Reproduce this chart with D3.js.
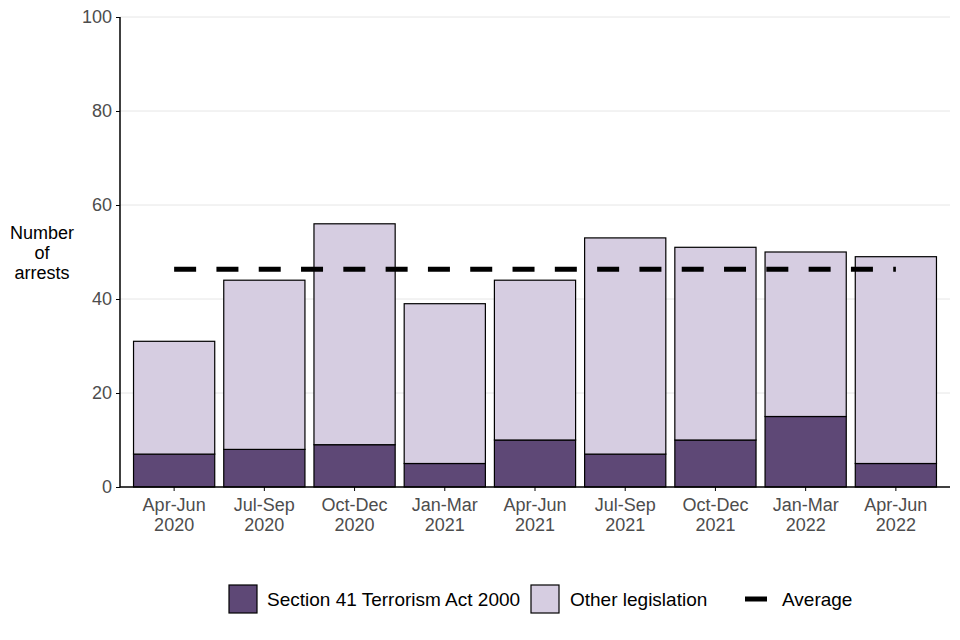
<!DOCTYPE html>
<html>
<head>
  <meta charset="UTF-8">
  <title>Arrests by quarter</title>
  <style>
    body {
      margin: 0;
      font-family: "Liberation Sans", Arial, sans-serif;
      overflow: hidden;
      background: #fff;
    }
    .grid line {
      stroke: #e6e6e6;
      stroke-width: 1px;
    }
    .axis text {
      font-size: 18px;
      fill: #4d4d4d;
    }
    .axis path, .axis line {
      stroke: #000;
    }
    .bar {
      stroke: #000;
      stroke-width: 1.2px;
    }
    .legend text {
      font-size: 19px;
      fill: #000;
    }
  </style>
</head>
<body>

<svg id="chart"></svg>

<script src="https://d3js.org/d3.v7.min.js"></script>
<script>
const width = 960;
const height = 640;
const margin = { top: 17, right: 10, bottom: 153, left: 120 };

const quarters = ["Apr-Jun 2020", "Jul-Sep 2020", "Oct-Dec 2020", "Jan-Mar 2021", "Apr-Jun 2021",
  "Jul-Sep 2021", "Oct-Dec 2021", "Jan-Mar 2022", "Apr-Jun 2022"];
const section41 = [7, 8, 9, 5, 10, 7, 10, 15, 5];
const otherLegislation = [24, 36, 47, 34, 34, 46, 41, 35, 44];
const yTicks = [0, 20, 40, 60, 80, 100];
const seriesNames = ["Section 41 Terrorism Act 2000", "Other legislation"];
const seriesColors = ["#5e4876", "#d6cde1"];

const svg = d3.select("#chart")
  .attr("width", width)
  .attr("height", height);

const innerW = width - margin.left - margin.right;
const innerH = height - margin.top - margin.bottom;

const g = svg.append("g")
  .attr("transform", `translate(${margin.left},${margin.top})`);

const x = d3.scaleBand()
  .domain(quarters)
  .range([0, innerW])
  .paddingInner(0.1)
  .paddingOuter(0.15);

const y = d3.scaleLinear()
  .domain([0, 100])
  .range([innerH, 0]);

// gridlines
g.append("g")
  .attr("class", "grid")
  .selectAll("line")
  .data(yTicks.filter(d => d > 0))
  .join("line")
  .attr("x1", 0)
  .attr("x2", innerW)
  .attr("y1", d => y(d))
  .attr("y2", d => y(d));

// stacked bars
const rows = quarters.map((q, i) => ({ q, s41: section41[i], other: otherLegislation[i] }));
const stack = d3.stack().keys(["s41", "other"])(rows);

g.selectAll("g.layer")
  .data(stack)
  .join("g")
  .attr("class", "layer")
  .attr("fill", (d, i) => seriesColors[i])
  .selectAll("rect")
  .data(d => d)
  .join("rect")
  .attr("class", "bar")
  .attr("x", d => x(d.data.q))
  .attr("width", x.bandwidth())
  .attr("y", d => y(d[1]))
  .attr("height", d => y(d[0]) - y(d[1]));

// average line
const totals = section41.map((v, i) => v + otherLegislation[i]);
const avg = d3.mean(totals);
const firstC = x(quarters[0]) + x.bandwidth() / 2;
const lastC = x(quarters[quarters.length - 1]) + x.bandwidth() / 2;

g.append("line")
  .attr("x1", firstC)
  .attr("x2", lastC)
  .attr("y1", y(avg))
  .attr("y2", y(avg))
  .attr("stroke", "#000")
  .attr("stroke-width", 5)
  .attr("stroke-dasharray", "22 20.3");

// axes
const yAxis = g.append("g")
  .attr("class", "axis")
  .call(d3.axisLeft(y).tickValues(yTicks).tickSize(4).tickPadding(4));
yAxis.select(".domain").attr("d", `M0,${innerH + 0.5}V0`).attr("stroke-width", 1.5);

const xAxis = g.append("g")
  .attr("class", "axis")
  .attr("transform", `translate(0,${innerH})`)
  .call(d3.axisBottom(x).tickSize(4).tickPadding(7));
xAxis.select(".domain").attr("d", `M0,0H${innerW}`).attr("stroke-width", 1.5);

xAxis.selectAll(".tick text")
  .each(function(d) {
    const parts = d.split(" ");
    const t = d3.select(this).text(null);
    parts.forEach((p, i) => {
      t.append("tspan")
        .attr("x", 0)
        .attr("dy", i === 0 ? "0.71em" : "1.11em")
        .text(p);
    });
  });

// y title
svg.append("text")
  .attr("x", 42)
  .attr("y", 239)
  .attr("text-anchor", "middle")
  .style("font-size", "18px")
  .selectAll("tspan")
  .data(["Number", "of", "arrests"])
  .join("tspan")
  .attr("x", 42)
  .attr("dy", (d, i) => i === 0 ? 0 : 20)
  .text(d => d);

// legend
const legend = svg.append("g").attr("class", "legend");
const legendY = 599;
const keyX = [229, 531];
const textX = [267, 570];

seriesNames.forEach((name, i) => {
  legend.append("rect")
    .attr("x", keyX[i])
    .attr("y", legendY - 14)
    .attr("width", 28)
    .attr("height", 28)
    .attr("fill", seriesColors[i])
    .attr("stroke", "#000")
    .attr("stroke-width", 1.2);
  legend.append("text")
    .attr("x", textX[i])
    .attr("y", legendY)
    .attr("dy", "0.35em")
    .text(name);
});

legend.append("line")
  .attr("x1", 745)
  .attr("x2", 767)
  .attr("y1", legendY)
  .attr("y2", legendY)
  .attr("stroke", "#000")
  .attr("stroke-width", 5);
legend.append("text")
  .attr("x", 782)
  .attr("y", legendY)
  .attr("dy", "0.35em")
  .text("Average");
</script>

</body>
</html>
